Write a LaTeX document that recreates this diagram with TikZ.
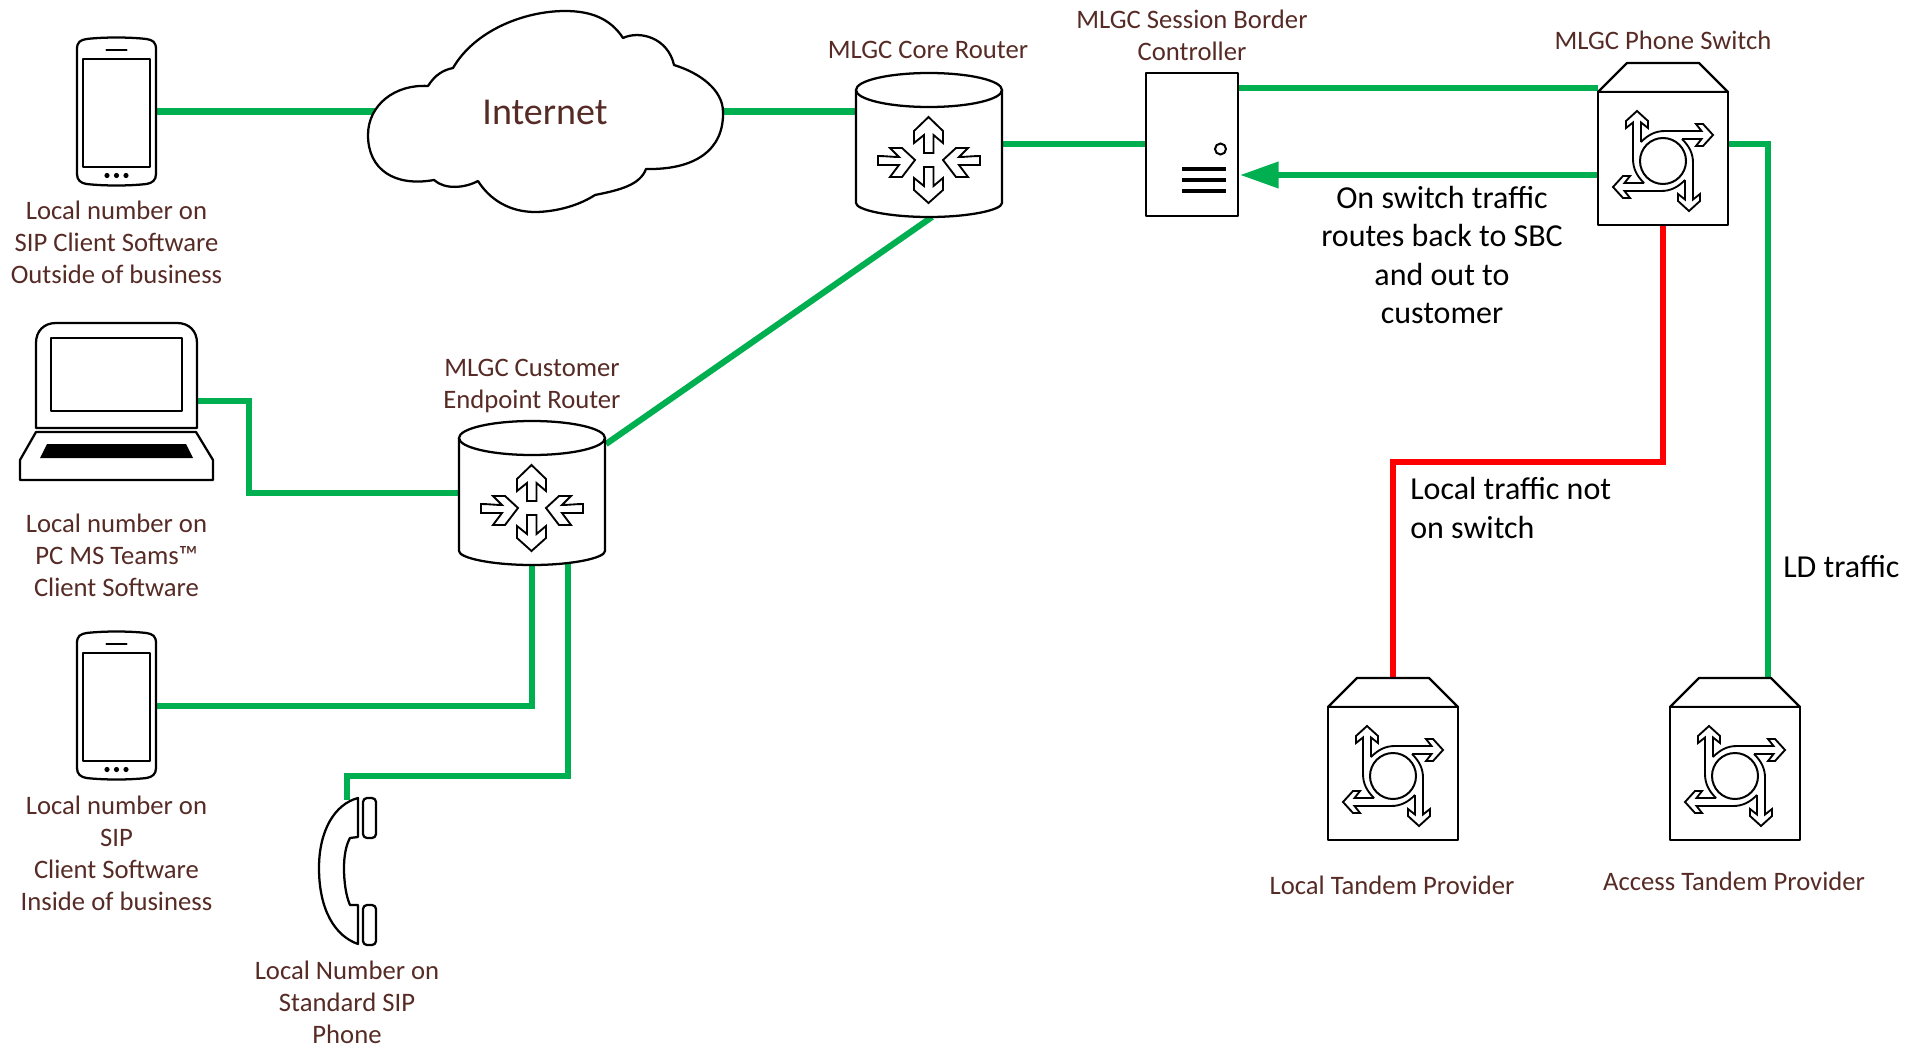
\documentclass[tikz,border=0pt]{standalone}
\usepackage{fontspec}
\setmainfont{Carlito}
\usetikzlibrary{arrows.meta}
\definecolor{lblbrown}{HTML}{562B26}
\definecolor{linkgreen}{HTML}{00B050}
\definecolor{linkred}{HTML}{FF0000}
\tikzset{
  outline/.style={draw=black,line width=1.7,line join=round,fill=white},
  thinout/.style={draw=black,line width=1.4,line join=miter,fill=white},
  greenlink/.style={draw=linkgreen,line width=4.6},
  redlink/.style={draw=linkred,line width=4.6},
  lbl/.style={text=lblbrown,font=\fontsize{20}{24}\selectfont,align=center,inner sep=0pt},
  note/.style={text=black,font=\fontsize{24}{28.6}\selectfont,align=center,inner sep=0pt},
  pics/handheld/.style={code={
    \path[outline] (-39.5,-63) .. controls (-39.5,-70) and (-36,-72) .. (-30,-73) .. controls (-12,-75) and (12,-75) .. (30,-73) .. controls (36,-72) and (39.5,-70) .. (39.5,-63) -- (39.5,62) .. controls (39.5,68) and (36,71) .. (30,72) .. controls (12,74) and (-12,74) .. (-30,72) .. controls (-36,71) and (-39.5,68) .. (-39.5,62) -- cycle;
    \path[outline] (-33.5,-53) rectangle (33.5,55);
    \draw[line width=1.6,line cap=round] (-10,-62) -- (10,-62);
    \fill (-9.5,63.5) circle (2.6) (0,63.5) circle (2.6) (9.5,63.5) circle (2.6);
  }},
  pics/routerbox/.style={code={
    \path[outline] (-73,-70) -- (-73,43) .. controls (-73,50) and (-40,57) .. (0,57) .. controls (40,57) and (73,50) .. (73,43) -- (73,-70);
    \path[outline] (0,-70) ellipse (73 and 17);
    \path[thinout] (-0.5,-43) -- (14,-29) -- (14,-17) -- (4.5,-25) -- (4.5,-7) -- (-5,-7) -- (-5,-25) -- (-15,-17) -- (-15,-29) -- cycle;
    \path[thinout] (-0.5,43) -- (14,30) -- (14,18) -- (4.5,26) -- (4.5,7) -- (-5,7) -- (-5,26) -- (-15,18) -- (-15,30) -- cycle;
    \foreach \r in {1,-1}{
      \begin{scope}[xscale=\r]
        \path[thinout] (-14,0) -- (-27,-12) -- (-39,-12) -- (-30,-3) .. controls (-36,-3) and (-44,-4) .. (-51,-4) -- (-51,5) -- (-30,5) -- (-39,17) -- (-27,17) -- cycle;
      \end{scope}
    }
  }},
  pics/switchbox/.style={code={
    \path[outline] (-65,-69) -- (-36,-98) -- (36,-98) -- (65,-69) -- cycle;
    \path[outline] (-65,-69) rectangle (65,64);
    \foreach \a in {0,-90,-180,-270}{
      \begin{scope}[rotate=\a]
        \draw[line width=1.4,line join=miter] (-19,22) .. controls (-26,15) and (-30,8) .. (-30,-2) -- (-30,-38.5) -- (-37,-33) -- (-37,-40) -- (-26,-50) -- (-15,-40) -- (-15,-33) -- (-22,-38.5) -- (-22,-19);
      \end{scope}
    }
    \draw[line width=1.5] (0,0) circle (23);
  }},
}
\begin{document}
\begin{tikzpicture}[x=0.75pt,y=-0.75pt]
\useasboundingbox (0,0) rectangle (1923,1049);

% named connection points
\coordinate (phoneAport) at (156,111.5);
\coordinate (cloudW) at (375,111.5);
\coordinate (cloudE) at (722,111.5);
\coordinate (coreW) at (856,111.5);
\coordinate (coreE) at (1002,144);
\coordinate (coreS) at (932,217);
\coordinate (sbcW) at (1146,144);
\coordinate (sbcE1) at (1238,88);
\coordinate (sbcE2) at (1240,175);
\coordinate (swW1) at (1598,88);
\coordinate (swW2) at (1602,175);
\coordinate (swE) at (1728,144);
\coordinate (swS) at (1663,225);
\coordinate (tandemAN) at (1393,678);
\coordinate (tandemBN) at (1768,678);
\coordinate (custNE) at (606,444);
\coordinate (custW) at (459,493);
\coordinate (custS1) at (532,560);
\coordinate (custS2) at (568,560);
\coordinate (lapE) at (197,401);
\coordinate (phoneBport) at (156,706);
\coordinate (handsetN) at (347,800);

% connectors
\draw[greenlink] (phoneAport) -- (cloudW);
\draw[greenlink] (cloudE) -- (coreW);
\draw[greenlink] (coreE) -- (sbcW);
\draw[greenlink] (coreS) -- (custNE);
\draw[greenlink] (sbcE1) -- (swW1);
\draw[greenlink,-{Triangle[length=29,width=19]}] (swW2) -- (sbcE2);
\draw[greenlink] (swE) -| (tandemBN);
\draw[redlink] (swS) |- (1393,462) -- (tandemAN);
\draw[greenlink] (lapE) -| (249,493) -- (custW);
\draw[greenlink] (custS1) |- (phoneBport);
\draw[greenlink] (custS2) |- (347,776) -- (handsetN);

% cloud
\path[outline] (428,86) .. controls (435,75) and (443,70) .. (453,68)
  .. controls (475,30) and (525,11) .. (565,11)
  .. controls (590,11) and (610,18) .. (623,38)
  .. controls (640,30) and (668,38) .. (674,65)
  .. controls (700,73) and (723,90) .. (723,112)
  .. controls (724,150) and (695,170) .. (646,169)
  .. controls (640,185) and (620,190) .. (595,195)
  .. controls (575,208) and (550,212) .. (535,212)
  .. controls (510,212) and (490,200) .. (478,181)
  .. controls (465,188) and (445,190) .. (434,180)
  .. controls (395,187) and (368,170) .. (368,135)
  .. controls (368,105) and (395,84) .. (428,86) -- cycle;
\node[lbl,font=\fontsize{28.5}{32}\selectfont] (internet) at (545,112) {Internet};

% handhelds
\pic at (116.5,112) {handheld};
\pic at (116.5,706) {handheld};

% laptop
\path[outline] (36,428) -- (36,343) .. controls (36,331) and (44,323) .. (56,323) -- (177,323) .. controls (189,323) and (197,331) .. (197,343) -- (197,428) -- cycle;
\path[outline] (51,338) rectangle (182,411);
\path[outline] (36,432) -- (196,432) -- (213,460) -- (213,480) -- (20,480) -- (20,460) -- cycle;
\fill (47,444) -- (186,444) -- (193,458) -- (40,458) -- cycle;

% routers
\pic at (929,160) {routerbox};
\pic at (532,508) {routerbox};

% SBC
\path[outline] (1146,73) rectangle (1238,216);
\draw[line width=1.5] (1220.5,149) circle (5.5);
\draw[line width=2.4] (1182,169) -- (1226,169) (1182,180) -- (1226,180) (1182,191) -- (1226,191);

% switches
\pic at (1663,161) {switchbox};
\pic at (1393,776) {switchbox};
\pic at (1735,776) {switchbox};

% handset
\path[outline] (358,798) -- (358,837) -- (350,838) .. controls (346,845) and (344,856) .. (344,868) .. controls (344,882) and (346,896) .. (350,905) -- (358,905) -- (358,944) .. controls (335,936) and (319,910) .. (319,868) .. controls (319,830) and (335,804) .. (358,798) -- cycle;
\path[outline,rounded corners=3] (363,798) rectangle (376,838);
\path[outline,rounded corners=3] (363,905) rectangle (376,945);

% labels
\node[lbl] (lblA) at (116.5,242) {Local number on\\SIP Client Software\\Outside of business};
\node[lbl] (lblB) at (116.5,555) {Local number on\\PC MS Teams™\\Client Software};
\node[lbl] (lblC) at (116.5,853) {Local number on\\SIP\\Client Software\\Inside of business};
\node[lbl] (lblD) at (347,1002) {Local Number on\\Standard SIP\\Phone};
\node[lbl] (lblE) at (532,386) {MLGC Customer\\Endpoint Router};
\node[lbl] (lblF) at (928,50) {MLGC Core Router};
\node[lbl] (lblG) at (1192,35) {MLGC Session Border\\Controller};
\node[lbl] (lblH) at (1663,40) {MLGC Phone Switch};
\node[lbl] (lblI) at (1392,885) {Local Tandem Provider};
\node[lbl] (lblJ) at (1734,881) {Access Tandem Provider};
\node[note] (noteA) at (1442,255) {On switch traffic\\routes back to SBC\\and out to\\customer};
\node[note,align=left,anchor=west] (noteB) at (1410,508) {Local traffic not\\on switch};
\node[note,anchor=west] (noteC) at (1783,567) {LD traffic};
\end{tikzpicture}
\end{document}
